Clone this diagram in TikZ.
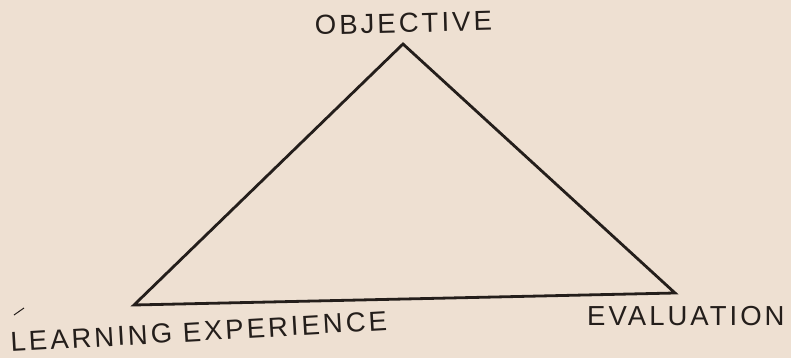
\documentclass[tikz,border=0pt]{standalone}
\usepackage{fontspec}
\setmainfont{Liberation Sans}
\newfontfamily\lettering[LetterSpace=11]{Liberation Sans}
\definecolor{paper}{RGB}{238,224,210}
\definecolor{ink}{RGB}{36,30,27}
\begin{document}
\begin{tikzpicture}[x=1pt,y=-1pt,
  lbl/.style={inner sep=0pt,font=\lettering\fontsize{27.5}{30}\selectfont,text=ink},
  edge/.style={draw=ink,line width=2.8pt,line join=miter}]
\fill[paper] (0,0) rectangle (791,358);
\useasboundingbox (0,0) rectangle (791,358);
\coordinate (top) at (403,44);
\coordinate (bl) at (134,305);
\coordinate (br) at (675,293);
\draw[edge] (top) -- (br) -- (bl) -- cycle;
\node[lbl,anchor=base west,rotate=1.5] (obj) at (315,35) {OBJECTIVE};
\node[lbl,anchor=base west,rotate=3.3] (learn) at (11,352) {LEARNING EXPERIENCE};
\node[lbl,anchor=base west] (eval) at (587,325) {EVALUATION};
\coordinate (tickA) at (14,315);
\coordinate (tickB) at (24,308);
\draw[ink,line width=1pt] (tickA) -- (tickB);
\end{tikzpicture}
\end{document}
